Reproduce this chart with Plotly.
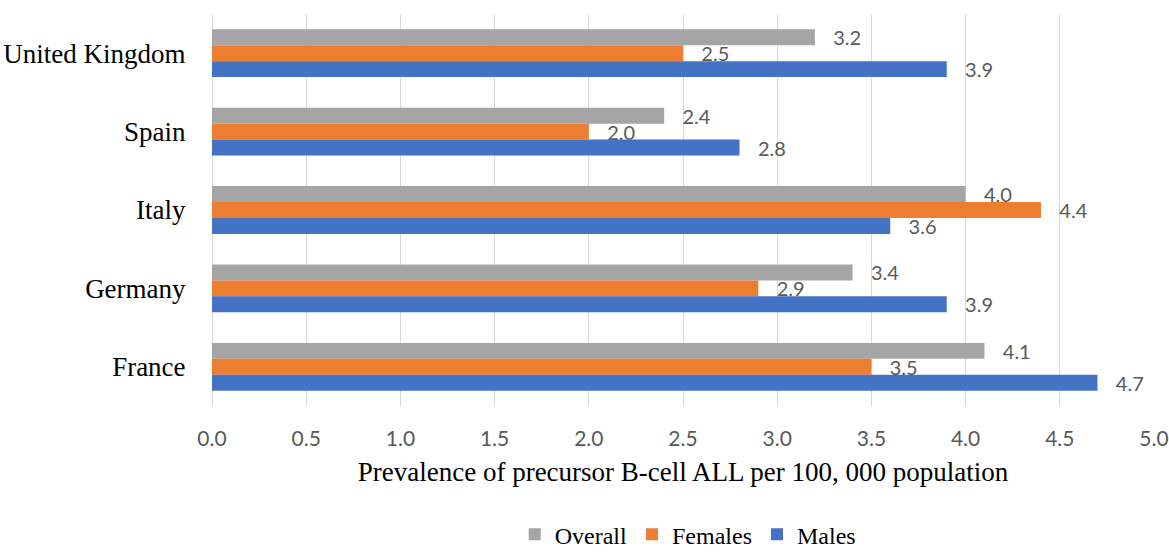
import plotly.graph_objects as go

# Prevalence of precursor B-cell ALL per 100,000 population, by country and sex
countries = ["United Kingdom", "Spain", "Italy", "Germany", "France"]
overall = [3.2, 2.4, 4.0, 3.4, 4.1]
females = [2.5, 2.0, 4.4, 2.9, 3.5]
males = [3.9, 2.8, 3.6, 3.9, 4.7]

series = [
    ("Overall", overall, "#A5A5A5"),
    ("Females", females, "#ED7D31"),
    ("Males", males, "#4472C4"),
]

PAD = "\u00a0" * 3  # gap between bar end and its value label

fig = go.Figure()
for name, vals, color in series:
    fig.add_trace(go.Bar(
        y=countries,
        x=vals,
        name=name,
        orientation="h",
        marker=dict(color=color, line=dict(width=0)),
        text=[f"{PAD}{v:.1f}" for v in vals],
        textposition="outside",
        constraintext="none",
        cliponaxis=False,
        textfont=dict(family="Lato, Liberation Sans, sans-serif", size=20, color="#595959"),
        hoverinfo="x+y+name",
    ))

fig.update_layout(
    width=1169,
    height=554,
    margin=dict(l=212, r=15, t=14, b=148, autoexpand=False),
    plot_bgcolor="white",
    paper_bgcolor="white",
    barmode="group",
    bargap=0.39,
    bargroupgap=0,
    legend=dict(
        orientation="h",
        x=0.505,
        xanchor="center",
        yref="container",
        y=0.035,
        yanchor="middle",
        font=dict(family="Liberation Serif, Times New Roman, serif", size=24, color="#000000"),
        itemwidth=30,
        tracegroupgap=0,
    ),
    xaxis=dict(
        range=[0, 5],
        dtick=0.5,
        tick0=0,
        tickformat=".1f",
        automargin=False,
        showgrid=True,
        gridcolor="#D9D9D9",
        gridwidth=1,
        zeroline=True,
        zerolinecolor="#D9D9D9",
        zerolinewidth=1,
        showline=False,
        ticks="outside",
        ticklen=14,
        tickcolor="rgba(0,0,0,0)",
        tickfont=dict(family="Lato, Liberation Sans, sans-serif", size=21, color="#595959"),
        title=dict(
            text="Prevalence of precursor B-cell ALL per 100, 000 population",
            font=dict(family="Liberation Serif, Times New Roman, serif", size=27, color="#000000"),
            standoff=12,
        ),
    ),
    yaxis=dict(
        autorange="reversed",
        automargin=False,
        showgrid=False,
        showline=False,
        zeroline=False,
        ticks="outside",
        ticklen=20,
        tickcolor="rgba(0,0,0,0)",
        tickfont=dict(family="Liberation Serif, Times New Roman, serif", size=27, color="#000000"),
    ),
)

fig.write_html("out.html")
